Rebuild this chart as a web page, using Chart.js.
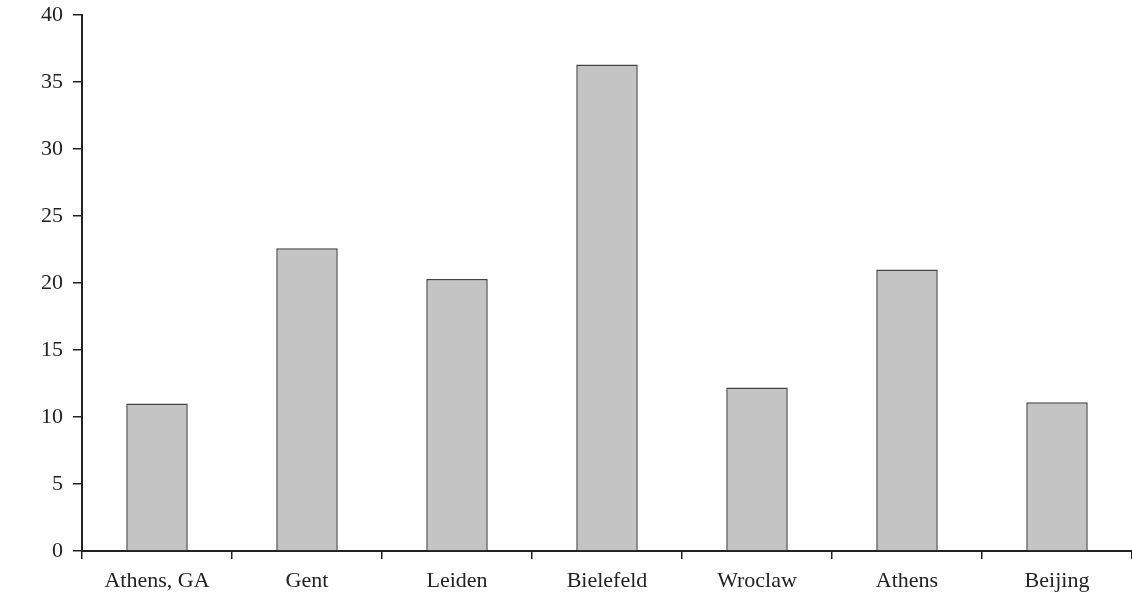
<!DOCTYPE html>
<html>
<head>
<meta charset="utf-8">
<script src="https://cdn.jsdelivr.net/npm/chart.js@4/dist/chart.umd.min.js"></script>
<style>
  html, body { margin: 0; padding: 0; background: #fff; }
  #wrap { width: 1132px; height: 593px; }
</style>
</head>
<body>
<div id="wrap"><canvas id="barChart"></canvas></div>
<script>
const cities = ['Athens, GA', 'Gent', 'Leiden', 'Bielefeld', 'Wroclaw', 'Athens', 'Beijing'];
const values = [11.0, 22.6, 20.3, 36.3, 12.2, 21.0, 11.1];
const yTicks = [0, 5, 10, 15, 20, 25, 30, 35, 40];

const serif = '"Liberation Serif", "DejaVu Serif", serif';

const ctx = document.getElementById('barChart').getContext('2d');
new Chart(ctx, {
    type: 'bar',
    data: {
        labels: cities,
        datasets: [{
            data: values,
            backgroundColor: '#c4c4c4',
            borderColor: '#444444',
            borderWidth: 1.5,
            barPercentage: 0.41,
            categoryPercentage: 1
        }]
    },
    options: {
        responsive: true,
        maintainAspectRatio: false,
        animation: false,
        layout: { padding: { top: 15, right: 0, bottom: 0, left: 0 } },
        plugins: { legend: { display: false }, tooltip: { enabled: false } },
        scales: {
            x: {
                afterFit: axis => { axis.height = 42; },
                grid: { display: true, offset: true, drawOnChartArea: false, color: '#222', tickLength: 8, lineWidth: 1.5 },
                border: { color: '#222', width: 2 },
                ticks: { color: '#222', padding: 11, font: { family: serif, size: 22, lineHeight: 1 } }
            },
            y: {
                min: 0,
                max: 40,
                afterBuildTicks: axis => { axis.ticks = yTicks.map(v => ({ value: v })); },
                afterFit: axis => { axis.width = 82; axis.paddingTop = 0; axis.paddingBottom = 0; },
                grid: { display: true, drawOnChartArea: false, color: '#222', tickLength: 9, lineWidth: 1.5 },
                border: { color: '#222', width: 2 },
                ticks: { color: '#222', padding: 10, font: { family: serif, size: 22, lineHeight: 1 } }
            }
        }
    }
});
</script>
</body>
</html>
